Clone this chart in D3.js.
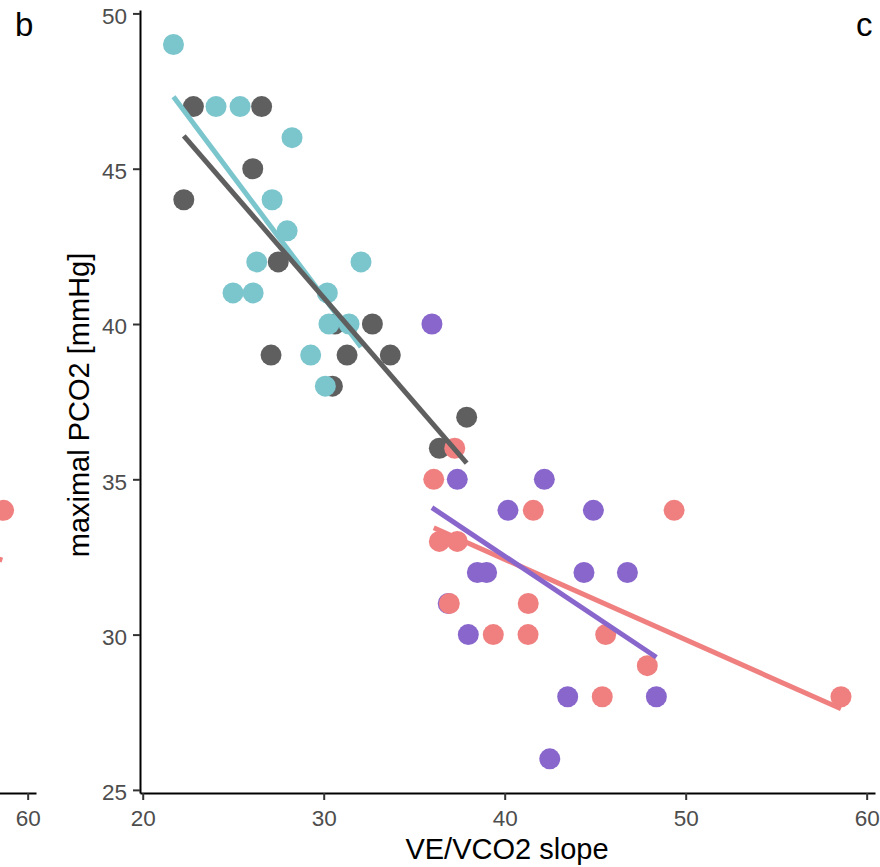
<!DOCTYPE html>
<html><head><meta charset="utf-8">
<script src="https://cdn.jsdelivr.net/npm/d3@7"></script>
<style>body{margin:0;background:#fff}svg{display:block}text{font-family:"Liberation Sans",Arial,sans-serif}</style>
</head><body>
<script>
// ---- data ----
const xTicks = [20, 30, 40, 50, 60];
const yTicks = [25, 30, 35, 40, 45, 50];
const darkX = [22.8, 26.57, 26.08, 22.27, 27.49, 30.62, 32.69, 27.09, 31.29, 33.68, 30.48, 37.9, 36.39];
const darkY = [47, 47, 45, 44, 42, 40, 40, 39, 39, 39, 38, 37, 36];
const purpleX = [35.98, 37.38, 42.19, 40.18, 44.9, 38.49, 39.0, 44.38, 46.78, 36.88, 37.99, 43.48, 48.38, 42.49];
const purpleY = [40, 35, 35, 34, 34, 32, 32, 32, 32, 31, 30, 28, 28, 26];
const redX = [37.24, 36.08, 41.58, 49.36, 36.39, 37.38, 36.94, 41.3, 39.37, 41.29, 45.58, 47.88, 45.39, 58.58];
const redY = [36, 35, 34, 34, 33, 33, 31, 31, 30, 30, 30, 29, 28, 28];
const cyanX = [21.7, 24.05, 25.38, 28.25, 27.15, 27.98, 26.3, 32.06, 24.99, 26.1, 30.2, 30.29, 31.4, 29.28, 30.09];
const cyanY = [49, 47, 47, 46, 44, 43, 42, 42, 41, 41, 41, 40, 40, 39, 38];
// fitted values of each linear trend at the group's lowest and highest x
const darkFitY = [46.06, 35.52];
const purpleFitY = [34.09, 29.27];
const redFitY = [33.44, 27.61];
const cyanFitY = [47.32, 39.26];
// partial neighbouring panel (b), visible at the left edge
const panelBPointX = [58.67];
const panelBPointY = [34];
const panelBLineX = [50, 58.6];
const panelBLineY = [34.0, 32.4];
const panelBTicks = [60];

const colors = {dark: "#5f5f5f", purple: "#8866cc", red: "#f08080", cyan: "#7bc5cd"};

const W = 880, H = 867;
const svg = d3.select("body").append("svg").attr("width", W).attr("height", H);

const x = d3.scaleLinear().domain([19.85, 60.46]).range([140, 875]);
const y = d3.scaleLinear().domain([24.9, 50.11]).range([793, 10]);

function styleAxis(g) {
  g.select(".domain").attr("stroke", "#000").attr("stroke-width", 2);
  g.selectAll(".tick line").attr("stroke", "#333").attr("stroke-width", 2);
  g.selectAll(".tick text").attr("fill", "#4d4d4d").style("font-size", "22.5px").attr("font-family", null);
}

// ---- panel b fragment ----
const gB = svg.append("g").attr("transform", "translate(-839,0)");
gB.append("g").attr("transform", "translate(0,793)")
  .call(d3.axisBottom(x).tickValues(panelBTicks).tickSize(7).tickPadding(10).tickSizeOuter(0))
  .call(styleAxis);
gB.selectAll("circle.b").data(panelBPointX).join("circle")
  .attr("cx", d => x(d)).attr("cy", (d, i) => y(panelBPointY[i])).attr("r", 10.5).attr("fill", colors.red);
gB.append("path").attr("d", d3.line().x(d => x(d[0])).y(d => y(d[1]))(panelBLineX.map((v, i) => [v, panelBLineY[i]])))
  .attr("stroke", colors.red).attr("stroke-width", 5).attr("fill", "none");

// ---- axes ----
svg.append("g").attr("transform", "translate(0,793)")
  .call(d3.axisBottom(x).tickValues(xTicks).tickSize(7).tickPadding(10).tickSizeOuter(0))
  .call(styleAxis);
svg.append("g").attr("transform", "translate(140,0)")
  .call(d3.axisLeft(y).tickValues(yTicks).tickSize(7).tickPadding(6).tickSizeOuter(0))
  .call(styleAxis)
  .call(g => g.selectAll(".tick text").attr("dy", "0.44em"));

// ---- points ----
const groups = [
  ["dark", darkX, darkY], ["purple", purpleX, purpleY], ["red", redX, redY], ["cyan", cyanX, cyanY]
];
groups.forEach(([k, xs, ys]) => {
  svg.append("g").selectAll("circle").data(xs).join("circle")
    .attr("cx", d => x(d)).attr("cy", (d, i) => y(ys[i])).attr("r", 10.5).attr("fill", colors[k]);
});

// ---- linear trend lines ----
const line = d3.line().x(d => x(d[0])).y(d => y(d[1]));
[["red", redX, redFitY], ["purple", purpleX, purpleFitY], ["cyan", cyanX, cyanFitY], ["dark", darkX, darkFitY]].forEach(([k, xs, fy]) => {
  const [x0, x1] = d3.extent(xs);
  svg.append("path").attr("d", line([[x0, fy[0]], [x1, fy[1]]]))
    .attr("stroke", colors[k]).attr("stroke-width", 5).attr("fill", "none");
});

// ---- titles ----
svg.append("text").attr("x", 507).attr("y", 859).attr("text-anchor", "middle").style("font-size", "29px").attr("fill", "#000").text("VE/VCO2 slope");
svg.append("text").attr("transform", "translate(89,405) rotate(-90)").attr("text-anchor", "middle").style("font-size", "29px").attr("fill", "#000").text("maximal PCO2 [mmHg]");
svg.append("text").attr("x", 15).attr("y", 36).style("font-size", "33px").attr("fill", "#000").text("b");
svg.append("text").attr("x", 856).attr("y", 36).style("font-size", "33px").attr("fill", "#000").text("c");
</script>
</body></html>
